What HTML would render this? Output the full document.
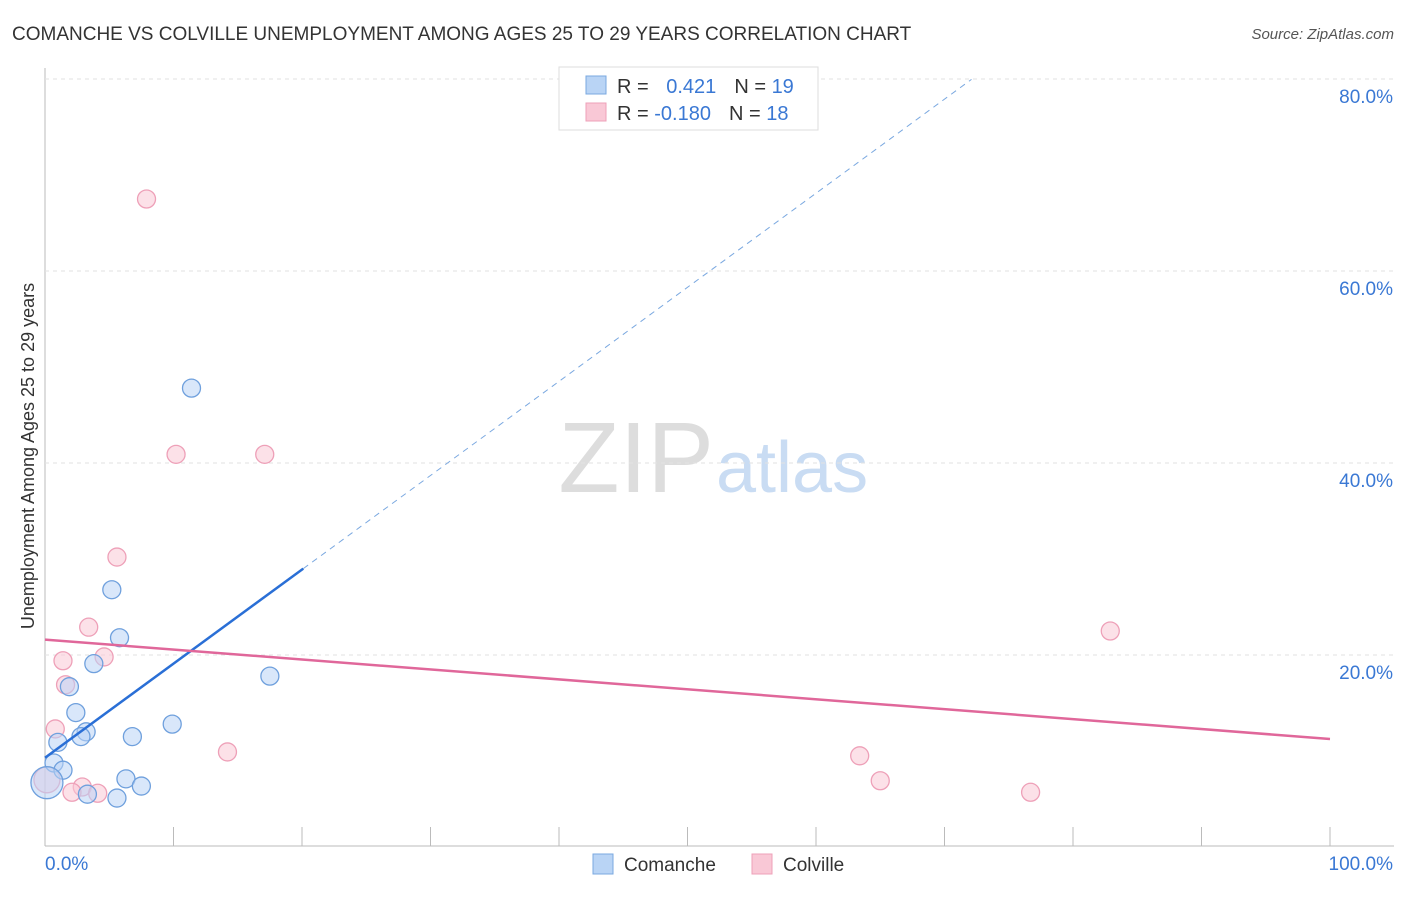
<!DOCTYPE html>
<html><head><meta charset="utf-8"><style>
body{margin:0;background:#fff;font-family:"Liberation Sans",sans-serif;}
svg text{font-family:"Liberation Sans",sans-serif;}
</style></head><body>
<svg id="c" width="1406" height="892">
<text x="12" y="40" font-size="19" fill="#333">COMANCHE VS COLVILLE UNEMPLOYMENT AMONG AGES 25 TO 29 YEARS CORRELATION CHART</text>
<text x="1394" y="39" font-size="15" fill="#555" text-anchor="end" font-style="italic">Source: ZipAtlas.com</text>
<text x="714" y="492" font-size="100" fill="#ddd" text-anchor="end" font-family="Liberation Serif">ZIP</text>
<text x="716" y="492" font-size="72" fill="#c9dcf3">atlas</text>
<text transform="translate(34,456) rotate(-90)" font-size="18" fill="#333" text-anchor="middle">Unemployment Among Ages 25 to 29 years</text>
<g id="grid"></g><g id="marks"></g>
<g>
<rect x="559" y="67" width="259" height="63" fill="#fff" stroke="#ddd"/>
<rect x="586" y="76" width="20" height="18" fill="#b9d4f5" stroke="#7aa8e0"/>
<rect x="586" y="103" width="20" height="18" fill="#f9c8d6" stroke="#eea0b8"/>
<text x="617" y="93" font-size="20" fill="#333">R = <tspan fill="#3a78d4" dx="12">0.421</tspan><tspan dx="18" fill="#333">N = </tspan><tspan fill="#3a78d4">19</tspan></text>
<text x="617" y="120" font-size="20" fill="#333">R = <tspan fill="#3a78d4">-0.180</tspan><tspan dx="18" fill="#333">N = </tspan><tspan fill="#3a78d4">18</tspan></text>
</g>
<g>
<rect x="593" y="854" width="20" height="20" fill="#b9d4f5" stroke="#7aa8e0"/>
<text x="624" y="871" font-size="19" fill="#333">Comanche</text>
<rect x="752" y="854" width="20" height="20" fill="#f9c8d6" stroke="#eea0b8"/>
<text x="783" y="871" font-size="19" fill="#333">Colville</text>
</g>
</svg>
<script>
const xTicks=[0,10,20,30,40,50,60,70,80,90,100];
const yTicks=[20,40,60,80];
const yTickLabels=["20.0%","40.0%","60.0%","80.0%"];
const xTickLabels=["0.0%","100.0%"];
const comancheX=[5.2,5.8,3.8,1.9,2.4,3.2,2.8,1.0,6.8,9.9,17.5,11.4,0.7,1.4,0.15,6.3,7.5,5.6,3.3];
const comancheY=[26.8,21.8,19.1,16.7,14.0,12.0,11.5,10.9,11.5,12.8,17.8,47.8,8.75,8.0,6.7,7.1,6.35,5.1,5.5];
const colvilleX=[7.9,10.2,17.1,5.6,3.4,1.4,4.6,1.6,0.8,14.2,2.9,2.1,4.1,0.15,63.4,65.0,76.7,82.9];
const colvilleY=[67.5,40.9,40.9,30.2,22.9,19.4,19.8,16.9,12.3,9.9,6.25,5.7,5.6,7.0,9.5,6.9,5.7,22.5];
const comancheTrend=[9.3,0.98];
const colvilleTrend=[21.6,-0.1035];
const X=v=>45+v*12.85, Y=v=>847-v*9.6;
const NS="http://www.w3.org/2000/svg";
function mk(p,t,a){const e=document.createElementNS(NS,t);for(const k in a)e.setAttribute(k,a[k]);p.appendChild(e);return e;}
const g=document.getElementById('grid'),m=document.getElementById('marks');
const ax=mk(g,'line',{x1:45,y1:68,x2:45,y2:846,stroke:'#bbb'});


const bx=mk(g,'line',{x1:45,y1:846,x2:1394,y2:846,stroke:'#bbb'});


yTicks.forEach((v,i)=>{
 const l=mk(g,'line',{x1:45,y1:Y(v),x2:1394,y2:Y(v),stroke:'#e2e2e2','stroke-dasharray':'4,4'});
 
 
 const t=mk(g,'text',{x:1393,y:Y(v)+24,'font-size':19,fill:'#3a78d4','text-anchor':'end'});t.textContent=yTickLabels[i];
 
 
});
xTicks.forEach(v=>{
 const l=mk(g,'line',{x1:X(v),y1:827,x2:X(v),y2:846,stroke:'#bbb'});
 
 
});
[[0,45,'start'],[1,1393,'end']].forEach(([i,x,a])=>{
 const t=mk(g,'text',{x:x,y:870,'font-size':19,fill:'#3a78d4','text-anchor':a});t.textContent=xTickLabels[i];
 
 
});
function dot(x,y,fill,stroke,r,name){const c=mk(m,'circle',{cx:X(x),cy:Y(y),r:r,fill:fill,stroke:stroke,'stroke-width':1.3,'fill-opacity':0.55});
 
 }
colvilleX.forEach((x,i)=>dot(x,colvilleY[i],'#f9c8d6','#eea0b8',i==13?13:9,'colville-point'));
comancheX.forEach((x,i)=>dot(x,comancheY[i],'#b9d4f5','#6fa0dd',i==14?16:9,'comanche-point'));
const bEnd=20.1,bFar=72.1;
const l1=mk(m,'line',{x1:X(0),y1:Y(comancheTrend[0]),x2:X(bEnd),y2:Y(comancheTrend[0]+comancheTrend[1]*bEnd),stroke:'#2a6fd6','stroke-width':2.5});


const l2=mk(m,'line',{x1:X(bEnd),y1:Y(comancheTrend[0]+comancheTrend[1]*bEnd),x2:X(bFar),y2:Y(comancheTrend[0]+comancheTrend[1]*bFar),stroke:'#7aa8e0','stroke-width':1,'stroke-dasharray':'6,5'});


const l3=mk(m,'line',{x1:X(0),y1:Y(colvilleTrend[0]),x2:X(100),y2:Y(colvilleTrend[0]+colvilleTrend[1]*100),stroke:'#e0679a','stroke-width':2.5});


</script>
</body></html>
